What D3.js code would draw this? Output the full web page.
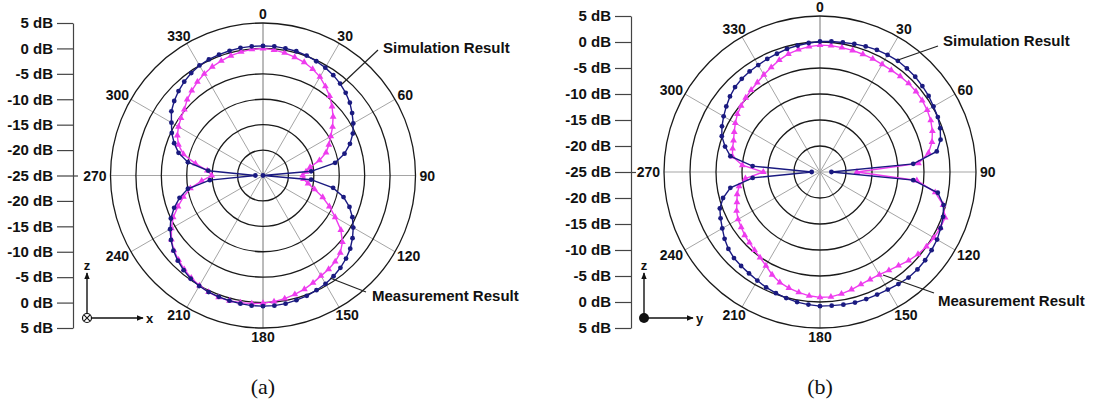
<!DOCTYPE html>
<html>
<head>
<meta charset="utf-8">
<script src="https://cdn.jsdelivr.net/npm/d3@7"></script>
<style>
  body { margin: 0; background: #fff; }
  svg { display: block; }
  text { font-family: "Liberation Sans", Arial, sans-serif; font-weight: bold; fill: #111; }
</style>
</head>
<body>
<div id="chart"></div>
<script>
// angles every 5 degrees, 0 at top, clockwise
const angleStep = 5;
const angles = d3.range(0, 360, angleStep);
const angleLabels = [0, 30, 60, 90, 120, 150, 180, 210, 240, 270, 300, 330];
const ringLevels = [-20, -15, -10, -5, 0, 5];
const dbTicks = [5, 0, -5, -10, -15, -20, -25, -20, -15, -10, -5, 0, 5];
const seriesNames = ['Simulation Result', 'Measurement Result'];
const captions = ['(a)', '(b)'];

// (a) x-z plane, dB
const simA = [
  0.5, 0.5, 0.4, 0.3, 0.1, -0.2, -0.5, -0.9, -1.4, -2.0, -2.7, -3.6,
  -4.5, -5.5, -6.8, -8.4, -10.6, -15.5, -25, -15.5, -11.0, -8.6, -6.9, -5.6,
  -4.5, -3.5, -2.6, -1.9, -1.3, -0.8, -0.4, -0.1, 0.2, 0.4, 0.6, 0.7,
  0.7, 0.7, 0.6, 0.5, 0.4, 0.3, 0.1, -0.2, -0.7, -1.3, -2.0, -2.9,
  -3.9, -5.0, -6.4, -8.0, -10.0, -14.5, -23.5, -14.2, -10.0, -7.8, -6.4, -5.2,
  -4.2, -3.0, -2.2, -1.5, -0.9, -0.4, 0.0, 0.2, 0.3, 0.4, 0.5, 0.5
];
const measA = [
  0.0, -0.2, -0.5, -0.9, -1.3, -1.9, -2.6, -3.6, -4.6, -5.8, -7.0, -8.3,
  -9.6, -10.7, -11.8, -13.5, -15.6, -16.5, -17.2, -17.0, -16.0, -14.5, -12.5, -10.6,
  -8.6, -6.3, -4.6, -3.5, -2.9, -2.5, -2.2, -1.7, -1.2, -0.8, -0.4, -0.1,
  0.1, 0.3, 0.4, 0.5, 0.5, 0.3, 0.0, -0.4, -0.9, -1.5, -2.1, -3.0,
  -4.2, -5.5, -7.2, -8.8, -10.5, -12.9, -14.9, -14.0, -11.5, -8.8, -7.3, -6.4,
  -5.8, -5.3, -4.8, -3.9, -3.2, -2.5, -1.9, -1.4, -1.0, -0.6, -0.3, -0.1
];

// (b) y-z plane, dB
const simB = [
  0.1, 0.2, 0.3, 0.5, 0.7, 0.9, 1.0, 1.1, 1.0, 0.9, 0.7, 0.5,
  0.2, 0.0, -0.4, -1.0, -2.2, -7.0, -22.8, -7.0, -2.0, -0.4, 0.2, 0.6,
  1.0, 1.2, 1.4, 1.5, 1.5, 1.3, 1.1, 1.0, 1.0, 1.0, 0.9, 0.8,
  0.8, 0.6, 0.4, 0.1, -0.2, -0.5, -0.9, -1.2, -1.4, -1.6, -2.0, -2.6,
  -3.3, -3.9, -4.5, -5.7, -7.5, -12.0, -23.4, -12.0, -7.5, -6.1, -4.9, -4.2,
  -3.6, -3.0, -2.4, -1.9, -1.6, -1.4, -1.25, -1.0, -0.8, -0.5, -0.3, -0.1
];
const measB = [
  -0.6, -0.6, -0.7, -0.8, -0.9, -1.0, -1.1, -1.1, -1.0, -0.9, -0.9, -1.0,
  -1.2, -1.5, -2.0, -2.7, -3.8, -6.0, -17.9, -6.3, -2.5, -0.5, 0.6, 0.5,
  0.3, 0.0, -0.4, -0.9, -1.5, -1.9, -2.2, -2.2, -2.0, -1.6, -1.2, -0.9,
  -0.9, -1.1, -1.5, -1.9, -2.4, -3.2, -4.2, -4.9, -5.4, -5.8, -6.1, -6.5,
  -6.8, -7.3, -8.0, -8.5, -9.2, -10.6, -14.1, -10.0, -7.9, -7.6, -7.3, -6.8,
  -6.2, -5.6, -5.2, -4.8, -4.4, -4.0, -3.4, -2.8, -2.1, -1.5, -1.1, -0.8
];

const width = 1094, height = 414;
const simColor = '#1a1a80', measColor = '#ee3cee';

const panels = [
  { cx: 263, cy: 175.5, R: 152.5, axisX: 73, sim: simA, meas: measA, caption: captions[0],
    simLab: { x: 383, y: 47, x1: 378, y1: 50, x2: 342, y2: 84 },
    measLab: { x: 372, y: 295, x1: 366, y1: 292, x2: 330, y2: 278 },
    triad: { x: 87, y: 318, h: 'x', len: 56, dot: false } },
  { cx: 820, cy: 172, R: 156, axisX: 631, sim: simB, meas: measB, caption: captions[1],
    simLab: { x: 943, y: 40, x1: 938, y1: 46, x2: 898, y2: 60 },
    measLab: { x: 938, y: 300, x1: 934, y1: 293, x2: 883, y2: 275 },
    triad: { x: 644, y: 318, h: 'y', len: 49, dot: true } }
];

const svg = d3.select('#chart').append('svg')
  .attr('width', width)
  .attr('height', height);

const defs = svg.append('defs');
defs.append('marker')
  .attr('id', 'arrow')
  .attr('viewBox', '0 0 10 10')
  .attr('refX', 9).attr('refY', 5)
  .attr('markerWidth', 7).attr('markerHeight', 7)
  .attr('markerUnits', 'userSpaceOnUse')
  .attr('orient', 'auto')
  .append('path')
  .attr('d', 'M0,1 L10,5 L0,9 Z')
  .attr('fill', '#111');

const rad = d => d * Math.PI / 180;

panels.forEach(drawPanel);

function drawPanel(p) {
  const r = d3.scaleLinear().domain([-25, 5]).range([0, p.R]).clamp(true);
  const g = svg.append('g').attr('transform', `translate(${p.cx},${p.cy})`);

  // spokes
  g.selectAll('.spoke')
    .data(angleLabels)
    .enter()
    .append('line')
    .attr('x1', 0).attr('y1', 0)
    .attr('x2', d => p.R * Math.sin(rad(d)))
    .attr('y2', d => -p.R * Math.cos(rad(d)))
    .style('stroke', d => d % 180 === 0 ? '#777' : '#a5a5a5')
    .style('stroke-width', 1);

  // rings
  g.selectAll('.ring')
    .data(ringLevels)
    .enter()
    .append('circle')
    .attr('r', d => r(d))
    .style('fill', 'none')
    .style('stroke', '#1a1a1a')
    .style('stroke-width', 1.3);

  // angle labels
  g.selectAll('.alab')
    .data(angleLabels)
    .enter()
    .append('text')
    .attr('text-anchor', 'middle')
    .attr('dominant-baseline', 'central')
    .style('font-size', '14px')
    .text(d => d)
    .each(function (d) {
      const w = this.getComputedTextLength();
      const s = Math.sin(rad(d)), c = Math.cos(rad(d));
      const gap = 4, h = 10;
      const x = (p.R + gap) * s + s * w / 2;
      const y = -(p.R + gap) * c - c * h / 2;
      d3.select(this).attr('x', x).attr('y', y);
    });

  // curves
  const line = d3.lineRadial()
    .angle(d => rad(d[0]))
    .radius(d => r(d[1]))
    .curve(d3.curveLinearClosed);
  const px = d => r(d[1]) * Math.sin(rad(d[0]));
  const py = d => -r(d[1]) * Math.cos(rad(d[0]));

  const measPts = angles.map((a, i) => [a, p.meas[i]]);
  const simPts = angles.map((a, i) => [a, p.sim[i]]);

  g.append('path')
    .datum(measPts)
    .attr('d', line)
    .style('fill', 'none')
    .style('stroke', measColor)
    .style('stroke-width', 1.4);
  g.selectAll('.tri')
    .data(measPts)
    .enter()
    .append('path')
    .attr('d', d3.symbol(d3.symbolTriangle, 20))
    .attr('transform', d => `translate(${px(d)},${py(d)})`)
    .style('fill', measColor);

  g.append('path')
    .datum(simPts)
    .attr('d', line)
    .style('fill', 'none')
    .style('stroke', simColor)
    .style('stroke-width', 1.4);
  g.selectAll('.dot')
    .data(simPts)
    .enter()
    .append('circle')
    .attr('cx', px)
    .attr('cy', py)
    .attr('r', 2.4)
    .style('fill', simColor);

  // dB axis on the left
  const yPos = d3.scalePoint()
    .domain(d3.range(dbTicks.length))
    .range([p.cy - p.R, p.cy + p.R]);
  const ax = svg.append('g')
    .attr('transform', `translate(${p.axisX},0)`)
    .call(d3.axisLeft(yPos)
      .tickSize(16)
      .tickSizeOuter(0)
      .tickPadding(4)
      .tickFormat(i => dbTicks[i] + ' dB'));
  ax.select('.domain').style('stroke', '#444').style('stroke-width', 1.2);
  ax.selectAll('.tick line').style('stroke', '#444').style('stroke-width', 1.2);
  ax.selectAll('.tick text')
    .style('font-size', '15px')
    .style('font-family', '"Liberation Sans", Arial, sans-serif')
    .style('font-weight', 'bold')
    .style('fill', '#111');
  ax.selectAll('.tick')
    .filter(i => dbTicks[i] === -25)
    .append('line')
    .attr('x2', 5)
    .style('stroke', '#444')
    .style('stroke-width', 1.2);

  // annotations
  [[p.simLab, seriesNames[0]], [p.measLab, seriesNames[1]]].forEach(([l, name]) => {
    svg.append('line')
      .attr('x1', l.x1).attr('y1', l.y1)
      .attr('x2', l.x2).attr('y2', l.y2)
      .style('stroke', '#222')
      .style('stroke-width', 1.2);
    svg.append('text')
      .attr('x', l.x).attr('y', l.y)
      .attr('dominant-baseline', 'central')
      .style('font-size', '15px')
      .text(name);
  });

  // coordinate triad
  const t = p.triad;
  const tg = svg.append('g');
  tg.append('line')
    .attr('x1', t.x).attr('y1', t.y)
    .attr('x2', t.x).attr('y2', t.y - 45)
    .attr('marker-end', 'url(#arrow)')
    .style('stroke', '#111').style('stroke-width', 1.4);
  tg.append('line')
    .attr('x1', t.x).attr('y1', t.y)
    .attr('x2', t.x + t.len).attr('y2', t.y)
    .attr('marker-end', 'url(#arrow)')
    .style('stroke', '#111').style('stroke-width', 1.4);
  tg.append('text')
    .attr('x', t.x).attr('y', t.y - 53)
    .attr('text-anchor', 'middle')
    .attr('dominant-baseline', 'central')
    .style('font-size', '13px')
    .text('z');
  tg.append('text')
    .attr('x', t.x + t.len + 3).attr('y', t.y)
    .attr('dominant-baseline', 'central')
    .style('font-size', '13px')
    .text(t.h);
  if (t.dot) {
    tg.append('circle').attr('cx', t.x).attr('cy', t.y).attr('r', 5).style('fill', '#111');
  } else {
    tg.append('circle').attr('cx', t.x).attr('cy', t.y).attr('r', 4.5)
      .style('fill', '#fff').style('stroke', '#111').style('stroke-width', 1.2);
    const k = 3.1;
    tg.append('path')
      .attr('d', `M${t.x - k},${t.y - k}L${t.x + k},${t.y + k}M${t.x + k},${t.y - k}L${t.x - k},${t.y + k}`)
      .style('stroke', '#111').style('stroke-width', 1.1);
  }

  // caption
  svg.append('text')
    .attr('x', p.cx)
    .attr('y', 394)
    .attr('text-anchor', 'middle')
    .style('font-family', '"Liberation Serif", "Times New Roman", serif')
    .style('font-weight', 'normal')
    .style('font-size', '22px')
    .text(p.caption);
}
</script>
</body>
</html>
